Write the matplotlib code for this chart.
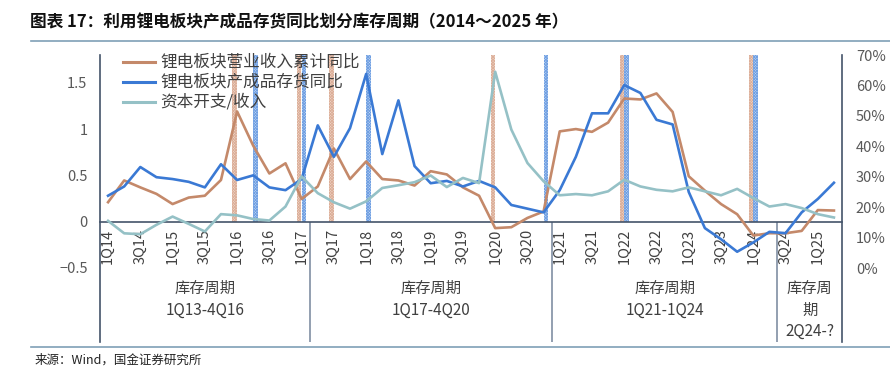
import numpy as np
import matplotlib
matplotlib.use("Agg")
import matplotlib.pyplot as plt
import matplotlib.transforms as mtransforms
from matplotlib.lines import Line2D
from matplotlib.ticker import FuncFormatter, PercentFormatter

plt.rcParams['font.family'] = ['Noto Sans CJK SC', 'DejaVu Sans']
plt.rcParams['hatch.linewidth'] = 0.6

# 季度 1Q14 ... 2Q25
quarters = [f"{q}Q{y:02d}" for y in range(14, 26) for q in range(1, 5)][:46]

# 锂电板块营业收入累计同比（左轴）
revenue_yoy = [0.21, 0.445, 0.37, 0.30, 0.19, 0.26, 0.28, 0.45, 1.19, 0.82,
               0.52, 0.63, 0.245, 0.38, 0.79, 0.46, 0.65, 0.46, 0.445, 0.39,
               0.545, 0.51, 0.37, 0.28, -0.07, -0.06, 0.04, 0.11, 0.975, 1.0,
               0.97, 1.07, 1.33, 1.32, 1.385, 1.185, 0.49, 0.335, 0.19, 0.08,
               -0.15, -0.125, -0.125, -0.10, 0.125, 0.12]
# 锂电板块产成品存货同比（左轴）
inventory_yoy = [0.28, 0.38, 0.59, 0.48, 0.46, 0.43, 0.37, 0.62, 0.45, 0.50,
                 0.37, 0.34, 0.46, 1.04, 0.70, 1.01, 1.595, 0.73, 1.31, 0.60,
                 0.415, 0.44, 0.38, 0.44, 0.37, 0.18, 0.14, 0.10, 0.34, 0.70,
                 1.17, 1.17, 1.475, 1.39, 1.10, 1.05, 0.32, -0.07, -0.19, -0.325,
                 -0.225, -0.11, -0.125, 0.10, 0.245, 0.42]
# 资本开支/收入（右轴）
capex_ratio = [0.155, 0.114, 0.111, 0.142, 0.169, 0.145, 0.120, 0.177, 0.173, 0.161,
               0.156, 0.202, 0.301, 0.246, 0.216, 0.195, 0.219, 0.263, 0.272, 0.282,
               0.304, 0.266, 0.296, 0.279, 0.645, 0.455, 0.345, 0.285, 0.239, 0.243,
               0.239, 0.252, 0.290, 0.268, 0.257, 0.252, 0.265, 0.252, 0.239, 0.260,
               0.230, 0.202, 0.210, 0.197, 0.177, 0.166]

# 库存周期标记（柱）
revenue_marks = [8, 12, 14, 24, 32, 40]
inventory_marks = [9, 12, 16, 27, 32, 40]
mark_top = 1.8

# 库存周期分组
group_bounds = [12.5, 27.5, 41.5]
group_labels = ["库存周期\n1Q13-4Q16", "库存周期\n1Q17-4Q20",
                "库存周期\n1Q21-1Q24", "库存周\n期\n2Q24-?"]
group_centers = [6.0, 20.0, 34.5, 43.5]

c_rev = '#c4896a'
c_inv = '#3a79d4'
c_cap = '#95c1c6'
axis_c = '#44546a'

fig = plt.figure(figsize=(8.9, 3.73), dpi=100)
ax = fig.add_axes([100 / 890, 31 / 373, 742 / 890, 287 / 373])
ax2 = ax.twinx()

# 先定位坐标轴线，再设置刻度标签（set_position 会重置刻度）
ax.spines['bottom'].set_position(('data', 0))

x = np.arange(len(quarters))

ax.bar(np.array(revenue_marks) - 0.15, mark_top, width=0.28, facecolor='#efd9cc',
       edgecolor='#dcae98', hatch='xxxxxxxxxxxx', linewidth=0, zorder=1)
ax.bar(np.array(inventory_marks) + 0.15, mark_top, width=0.28, facecolor='#c2d7f4',
       edgecolor='#6f9fe2', hatch='xxxxxxxxxxxx', linewidth=0, zorder=1)

ax.plot(x, revenue_yoy, color=c_rev, lw=1.9, zorder=3)
ax.plot(x, inventory_yoy, color=c_inv, lw=1.9, zorder=3)
ax2.plot(x, capex_ratio, color=c_cap, lw=1.9, zorder=3)

ax.set_xlim(-0.5, 45.5)
ax.set_ylim(-1.3, 1.8)
ax2.set_ylim(-74 / 304.3, 0.7)

ax.set_yticks([-0.5, 0, 0.5, 1, 1.5])
ax.yaxis.set_major_formatter(FuncFormatter(lambda v, p: f"{v:g}".replace('-', '\u2212')))
ax2.set_yticks([0, 0.1, 0.2, 0.3, 0.4, 0.5, 0.6, 0.7])
ax2.yaxis.set_major_formatter(PercentFormatter(1.0, decimals=0))

ax.set_xticks(x[::2])
ax.set_xticklabels(quarters[::2])
ax.tick_params(axis='x', length=0, pad=5, labelrotation=90, labelsize=10.5,
               labelcolor='#404040')
ax.tick_params(axis='y', length=0, pad=9, labelsize=10.5, labelcolor='#595959')
ax2.tick_params(axis='y', length=0, pad=10, labelsize=10.5, labelcolor='#595959')

for a in (ax, ax2):
    a.spines['top'].set_visible(False)
    a.patch.set_visible(False)
for s in ('bottom', 'left'):
    ax.spines[s].set_color(axis_c)
    ax.spines[s].set_linewidth(1.2)
ax.spines['right'].set_visible(False)
ax2.spines['left'].set_visible(False)
ax2.spines['bottom'].set_visible(False)
ax2.spines['right'].set_color(axis_c)
ax2.spines['right'].set_linewidth(1.2)

ax.vlines(group_bounds, -1.3, 0, colors='#8a97aa', lw=1.3, zorder=2)

trans = mtransforms.blended_transform_factory(ax.transData, fig.transFigure)
for xc, lab in zip(group_centers, group_labels):
    ax.text(xc, 1 - 280 / 373, lab, transform=trans, ha='center', va='top',
            fontsize=11, color='#404040', linespacing=1.35)

# 图例
leg_rows = [("锂电板块营业收入累计同比", c_rev), ("锂电板块产成品存货同比", c_inv),
            ("资本开支/收入", c_cap)]
for i, (lab, col) in enumerate(leg_rows):
    yy = 1 - (62 + 20 * i) / 373
    fig.add_artist(Line2D([123 / 890, 155 / 890], [yy, yy], color=col, lw=2.2))
    fig.text(160 / 890, yy, lab, ha='left', va='center', fontsize=12, color='#404040')

fig.text(30 / 890, 1 - 22 / 373, "图表 17：利用锂电板块产成品存货同比划分库存周期（2014～2025 年）",
         fontsize=12, fontweight='bold', fontstyle='italic', ha='left', va='center', color='#111111')
fig.add_artist(Line2D([31 / 890, 1], [1 - 41 / 373] * 2, color='#7fa0b6', lw=1.2))
fig.add_artist(Line2D([31 / 890, 1], [1 - 347 / 373] * 2, color='#7fa0b6', lw=1.2))
fig.text(35 / 890, 1 - 360 / 373, "来源：Wind，国金证券研究所", fontsize=9,
         ha='left', va='center', color='#222222')

fig.savefig('out.png', dpi=100)
